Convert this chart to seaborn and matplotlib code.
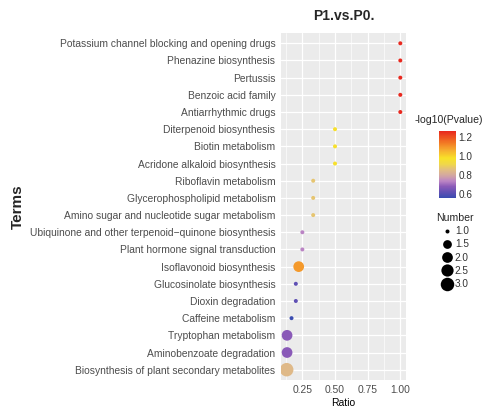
import numpy as np
import pandas as pd
import matplotlib
matplotlib.use("Agg")
import matplotlib.pyplot as plt
import seaborn as sns
from matplotlib.colors import LinearSegmentedColormap, Normalize
from matplotlib.lines import Line2D
import matplotlib.cm as cm

terms = [
    "Potassium channel blocking and opening drugs",
    "Phenazine biosynthesis",
    "Pertussis",
    "Benzoic acid family",
    "Antiarrhythmic drugs",
    "Diterpenoid biosynthesis",
    "Biotin metabolism",
    "Acridone alkaloid biosynthesis",
    "Riboflavin metabolism",
    "Glycerophospholipid metabolism",
    "Amino sugar and nucleotide sugar metabolism",
    "Ubiquinone and other terpenoid\u2212quinone biosynthesis",
    "Plant hormone signal transduction",
    "Isoflavonoid biosynthesis",
    "Glucosinolate biosynthesis",
    "Dioxin degradation",
    "Caffeine metabolism",
    "Tryptophan metabolism",
    "Aminobenzoate degradation",
    "Biosynthesis of plant secondary metabolites",
]
ratio = [1.0, 1.0, 1.0, 1.0, 1.0,
         0.5, 0.5, 0.5,
         0.333, 0.333, 0.333,
         0.25, 0.25,
         0.222,
         0.2, 0.2,
         0.167,
         0.133, 0.133, 0.13]
pvalue = [1.266, 1.266, 1.266, 1.266, 1.266,
          0.97, 0.97, 0.97,
          0.875, 0.875, 0.875,
          0.74, 0.74,
          1.095,
          0.62, 0.62,
          0.561,
          0.68, 0.68, 0.845]
number = [1, 1, 1, 1, 1,
          1, 1, 1,
          1, 1, 1,
          1, 1,
          2,
          1, 1,
          1,
          2, 2, 3]
size_legend_values = [1.0, 1.5, 2.0, 2.5, 3.0]
cbar_ticks = [0.6, 0.8, 1.0, 1.2]

df = pd.DataFrame({"Terms": terms, "Ratio": ratio, "Pvalue": pvalue, "Number": number})

pmin, pmax = 0.561, 1.266
stops = [(0.561, "#3A4CB0"), (0.62, "#6050B4"), (0.68, "#8A5AB8"),
         (0.74, "#BC86C4"), (0.80, "#D4A8A0"), (0.86, "#E2BE80"),
         (0.92, "#F0D848"), (0.98, "#F8E228"), (1.06, "#F6B030"),
         (1.14, "#F27A24"), (1.266, "#E8281E")]
cmap = LinearSegmentedColormap.from_list(
    "pv", [((v - pmin) / (pmax - pmin), c) for v, c in stops])
norm = Normalize(pmin, pmax)

def size_area(n):
    d_px = 4.0 + np.sqrt((n - 1) / 2.0) * 9.5
    return (d_px / (100 / 72)) ** 2

sns.set_theme(style="darkgrid")
plt.rcParams['font.family'] = ['Liberation Sans', 'DejaVu Sans']

fig = plt.figure(figsize=(4.9, 4.09), dpi=100)
ax = fig.add_axes([281 / 490, 1 - 380 / 409, 125 / 490, 347 / 409])
ax.set_facecolor("#EBEBEB")

sns.scatterplot(data=df, x="Ratio", y="Terms", hue="Pvalue", palette=cmap,
                hue_norm=norm, size="Number",
                sizes={n: size_area(n) for n in sorted(set(number))},
                linewidth=0, legend=False, ax=ax, zorder=3)

ax.set_xlim(0.0865, 1.0435)
ax.set_ylim(len(terms) - 0.4, -0.6)
ax.set_xticks([0.25, 0.5, 0.75, 1.0])
ax.set_xticklabels(["0.25", "0.50", "0.75", "1.00"])
ax.set_xticks([0.125, 0.375, 0.625, 0.875], minor=True)
ax.grid(True, which="major", color="white", linewidth=0.9)
ax.grid(True, which="minor", axis="x", color="white", linewidth=0.45)
for s in ax.spines.values():
    s.set_visible(False)
ax.tick_params(axis="both", which="major", length=2.5, width=0.6, color="#333333",
               labelsize=7.35, labelcolor="#4D4D4D", pad=1.5)
ax.tick_params(axis="x", which="major", pad=1.0)
ax.tick_params(axis="x", which="minor", length=0)
ax.set_xlabel("Ratio", fontsize=7.5, color="black", labelpad=2)
ax.set_ylabel("")
fig.text(18 / 490, 1 - 207 / 409, "Terms", rotation=90, fontsize=11,
         fontweight="bold", ha="center", va="center")
ax.set_title("P1.vs.P0.", fontsize=10, fontweight="bold", pad=9)

# colorbar
cax = fig.add_axes([439 / 490, 1 - 198 / 409, 16.7 / 490, 67 / 409])
cb = fig.colorbar(cm.ScalarMappable(norm=norm, cmap=cmap), cax=cax, ticks=cbar_ticks)
cb.outline.set_visible(False)
cax.tick_params(length=2.5, width=0.6, color="white", direction="in",
                labelsize=7.2, labelcolor="#333333", pad=2)
cb.ax.set_yticklabels([f"{t:.1f}" for t in cbar_ticks])
fig.text(415 / 490, 1 - 120 / 409, "-log10(Pvalue)", fontsize=7.6,
         ha="left", va="center")

# size legend
handles = [Line2D([], [], linestyle="none", marker="o", color="black",
                  markersize=np.sqrt(size_area(v)), markeredgewidth=0)
           for v in size_legend_values]
leg = fig.legend(handles, [f"{v:.1f}" for v in size_legend_values],
                 title="Number", loc="upper left",
                 bbox_to_anchor=(429 / 490, 1 - 206 / 409), frameon=False,
                 fontsize=7.2, title_fontsize=7.6, handletextpad=0.2,
                 labelspacing=0.32, handlelength=1.2, borderpad=0.2)
for t in leg.get_texts():
    t.set_color("#333333")

fig.savefig("out.png", dpi=100, facecolor="white")
